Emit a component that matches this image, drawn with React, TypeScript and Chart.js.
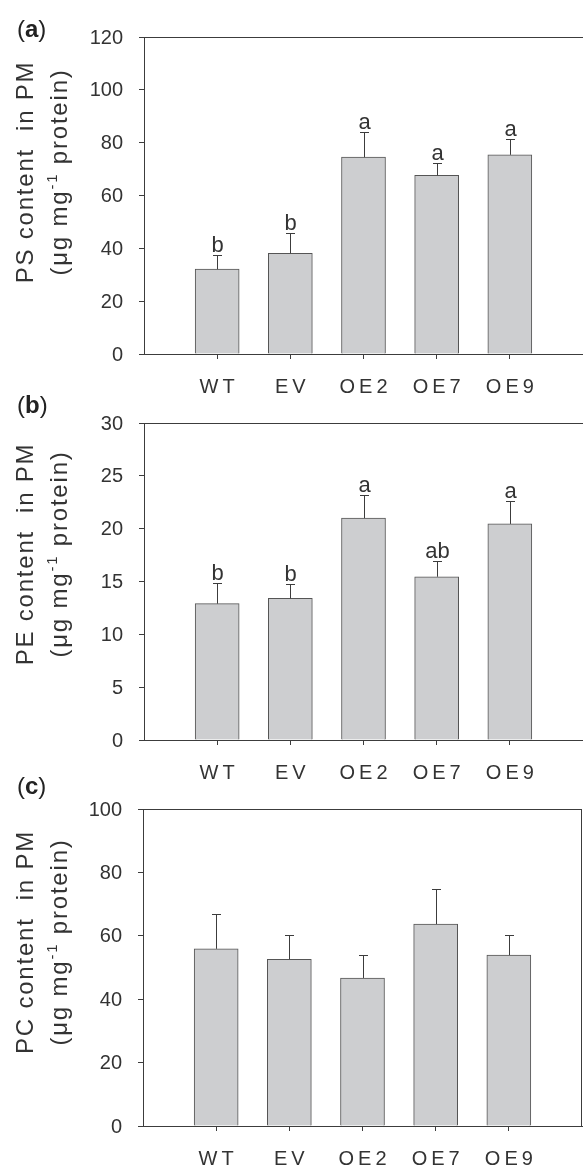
import React, { useEffect, useRef } from 'react';
import { Chart, registerables } from 'chart.js';

Chart.register(...registerables);

// ---------- data ----------
const CATEGORIES = ['WT', 'EV', 'OE2', 'OE7', 'OE9'];
const TICK_LABELS = ['W\u2009T', 'E\u2009V', 'O\u2009E\u20092', 'O\u2009E\u20097', 'O\u2009E\u20099'];

const PS_MEANS = [32.1, 38.1, 74.5, 67.6, 75.4];
const PS_ERRORS = [5.5, 7.6, 9.5, 4.6, 5.9];
const PS_LETTERS = ['b', 'b', 'a', 'a', 'a'];

const PE_MEANS = [12.9, 13.4, 21.0, 15.45, 20.45];
const PE_ERRORS = [2.0, 1.4, 2.2, 1.5, 2.2];
const PE_LETTERS = ['b', 'b', 'a', 'ab', 'a'];

const PC_MEANS = [55.9, 52.6, 46.7, 63.7, 53.9];
const PC_ERRORS = [11.0, 7.8, 7.2, 11.2, 6.5];
const PC_LETTERS: string[] = [];

const PS_Y_MAX = 120;
const PS_Y_STEP = 20;
const PE_Y_MAX = 30;
const PE_Y_STEP = 5;
const PC_Y_MAX = 100;
const PC_Y_STEP = 20;

// ---------- style ----------
const FONT = '"Liberation Sans", Arial, Helvetica, sans-serif';
const TEXT = '#333333';
const AXIS = '#3c3c3c';
const BAR_FILL = '#cdced0';
const BAR_EDGE = '#555555';

const W = 583;
const PANEL_H = 396;

type PanelCfg = {
  top: number;
  label: string;
  title: string;
  means: number[];
  errors: number[];
  letters: string[];
  yMax: number;
  yStep: number;
  axisWidth: number;
  rightPad: number;
  rightBorder: boolean;
  labelBaseline: number;
  titleCenter: number;
};

const PANELS: PanelCfg[] = [
  {
    top: 0, label: 'a', title: 'PS content  in PM', means: PS_MEANS, errors: PS_ERRORS,
    letters: PS_LETTERS, yMax: PS_Y_MAX, yStep: PS_Y_STEP, axisWidth: 144, rightPad: 0,
    rightBorder: false, labelBaseline: 37, titleCenter: 172,
  },
  {
    top: 386, label: 'b', title: 'PE content  in PM', means: PE_MEANS, errors: PE_ERRORS,
    letters: PE_LETTERS, yMax: PE_Y_MAX, yStep: PE_Y_STEP, axisWidth: 144, rightPad: 0,
    rightBorder: false, labelBaseline: 27, titleCenter: 168,
  },
  {
    top: 772, label: 'c', title: 'PC content  in PM', means: PC_MEANS, errors: PC_ERRORS,
    letters: PC_LETTERS, yMax: PC_Y_MAX, yStep: PC_Y_STEP, axisWidth: 143, rightPad: 1,
    rightBorder: true, labelBaseline: 22, titleCenter: 170,
  },
];

function drawRotatedParts(
  ctx: CanvasRenderingContext2D,
  x: number,
  cy: number,
  parts: { t: string; size: number; dy: number }[],
) {
  ctx.save();
  ctx.translate(x, cy);
  ctx.rotate(-Math.PI / 2);
  (ctx as any).letterSpacing = '1.8px';
  ctx.textAlign = 'left';
  ctx.textBaseline = 'alphabetic';
  ctx.fillStyle = TEXT;
  let total = 0;
  const widths = parts.map((p) => {
    ctx.font = `${p.size}px ${FONT}`;
    const w = ctx.measureText(p.t).width;
    total += w;
    return w;
  });
  let pos = -total / 2;
  parts.forEach((p, i) => {
    ctx.font = `${p.size}px ${FONT}`;
    ctx.fillText(p.t, pos, p.dy);
    pos += widths[i];
  });
  ctx.restore();
}

function makeDecor(cfg: PanelCfg) {
  return {
    id: 'decor',
    afterDatasetsDraw(chart: any) {
      const { ctx, chartArea: ca } = chart;
      const x = chart.scales.x;
      const y = chart.scales.y;
      ctx.save();
      ctx.strokeStyle = AXIS;
      ctx.lineWidth = 1;
      // frame: top (and right for c)
      ctx.beginPath();
      ctx.moveTo(ca.left, ca.top + 0.5);
      ctx.lineTo(ca.right, ca.top + 0.5);
      if (cfg.rightBorder) {
        ctx.moveTo(ca.right - 0.5, ca.top);
        ctx.lineTo(ca.right - 0.5, ca.bottom);
      }
      ctx.stroke();
      // error bars + letters
      ctx.font = `22px ${FONT}`;
      ctx.fillStyle = TEXT;
      ctx.textAlign = 'center';
      ctx.textBaseline = 'alphabetic';
      cfg.means.forEach((m, i) => {
        const px = Math.round(x.getPixelForValue(i + 1)) + 0.5;
        const base = y.getPixelForValue(m);
        const top = Math.round(y.getPixelForValue(m + cfg.errors[i])) + 0.5;
        ctx.beginPath();
        ctx.moveTo(px, base);
        ctx.lineTo(px, top);
        ctx.moveTo(px - 4.5, top);
        ctx.lineTo(px + 4.5, top);
        ctx.stroke();
        const letter = cfg.letters[i];
        if (letter) ctx.fillText(letter, px, top - 4);
      });
      ctx.restore();
    },
    afterDraw(chart: any) {
      const ctx: CanvasRenderingContext2D = chart.ctx;
      // y-axis title (two lines)
      drawRotatedParts(ctx, 33, cfg.titleCenter, [{ t: cfg.title, size: 24, dy: 0 }]);
      drawRotatedParts(ctx, 67, cfg.titleCenter, [
        { t: '(\u03BCg mg', size: 24, dy: 0 },
        { t: '-1', size: 15, dy: -10 },
        { t: ' protein)', size: 24, dy: 0 },
      ]);
      // panel label
      ctx.save();
      ctx.fillStyle = '#222222';
      ctx.textBaseline = 'alphabetic';
      ctx.textAlign = 'left';
      let px = 17;
      ctx.font = `24px ${FONT}`;
      ctx.fillText('(', px, cfg.labelBaseline);
      px += ctx.measureText('(').width;
      ctx.font = `bold 24px ${FONT}`;
      ctx.fillText(cfg.label, px, cfg.labelBaseline);
      px += ctx.measureText(cfg.label).width;
      ctx.font = `24px ${FONT}`;
      ctx.fillText(')', px, cfg.labelBaseline);
      ctx.restore();
    },
  };
}

function Panel({ cfg }: { cfg: PanelCfg }) {
  const ref = useRef<HTMLCanvasElement | null>(null);
  useEffect(() => {
    if (!ref.current) return;
    const gridCfg = {
      display: true,
      drawOnChartArea: false,
      drawTicks: true,
      tickLength: 5,
      color: AXIS,
      lineWidth: 1,
      offset: false,
    };
    const chart = new Chart(ref.current, {
      type: 'bar',
      data: {
        datasets: [
          {
            data: cfg.means.map((m, i) => ({ x: i + 1, y: m })),
            backgroundColor: BAR_FILL,
            borderColor: BAR_EDGE,
            borderWidth: 1,
            barThickness: 44,
          } as any,
        ],
      },
      options: {
        animation: false,
        responsive: false,
        events: [],
        layout: { padding: { top: 37, right: cfg.rightPad, left: 0, bottom: 0 } },
        plugins: { legend: { display: false }, tooltip: { enabled: false } },
        scales: {
          x: {
            type: 'linear',
            min: 0,
            max: CATEGORIES.length + 1,
            offset: false,
            afterBuildTicks: (s: any) => {
              s.ticks = CATEGORIES.map((_, i) => ({ value: i + 1 }));
            },
            afterFit: (s: any) => {
              s.height = PANEL_H - 354;
            },
            ticks: {
              autoSkip: false,
              maxRotation: 0,
              padding: 16,
              color: TEXT,
              font: { family: FONT, size: 20 },
              callback: (v: any) => TICK_LABELS[Number(v) - 1] ?? '',
            },
            grid: gridCfg,
            border: { display: true, color: AXIS, width: 1 },
          } as any,
          y: {
            min: 0,
            max: cfg.yMax,
            afterFit: (s: any) => {
              s.width = cfg.axisWidth;
            },
            ticks: {
              stepSize: cfg.yStep,
              padding: 16,
              labelOffset: 1,
              color: TEXT,
              font: { family: FONT, size: 20 },
            },
            grid: gridCfg,
            border: { display: true, color: AXIS, width: 1 },
          } as any,
        },
      },
      plugins: [makeDecor(cfg)],
    });
    return () => chart.destroy();
  }, [cfg]);
  return (
    <canvas
      ref={ref}
      width={W}
      height={PANEL_H}
      style={{ position: 'absolute', left: 0, top: cfg.top, width: W, height: PANEL_H, display: 'block' }}
    />
  );
}

export default function App() {
  useEffect(() => {
    document.body.style.margin = '0';
  }, []);
  return (
    <div style={{ position: 'relative', width: W, height: 1168, overflow: 'hidden', background: '#ffffff' }}>
      {PANELS.map((p) => (
        <Panel key={p.label} cfg={p} />
      ))}
    </div>
  );
}
